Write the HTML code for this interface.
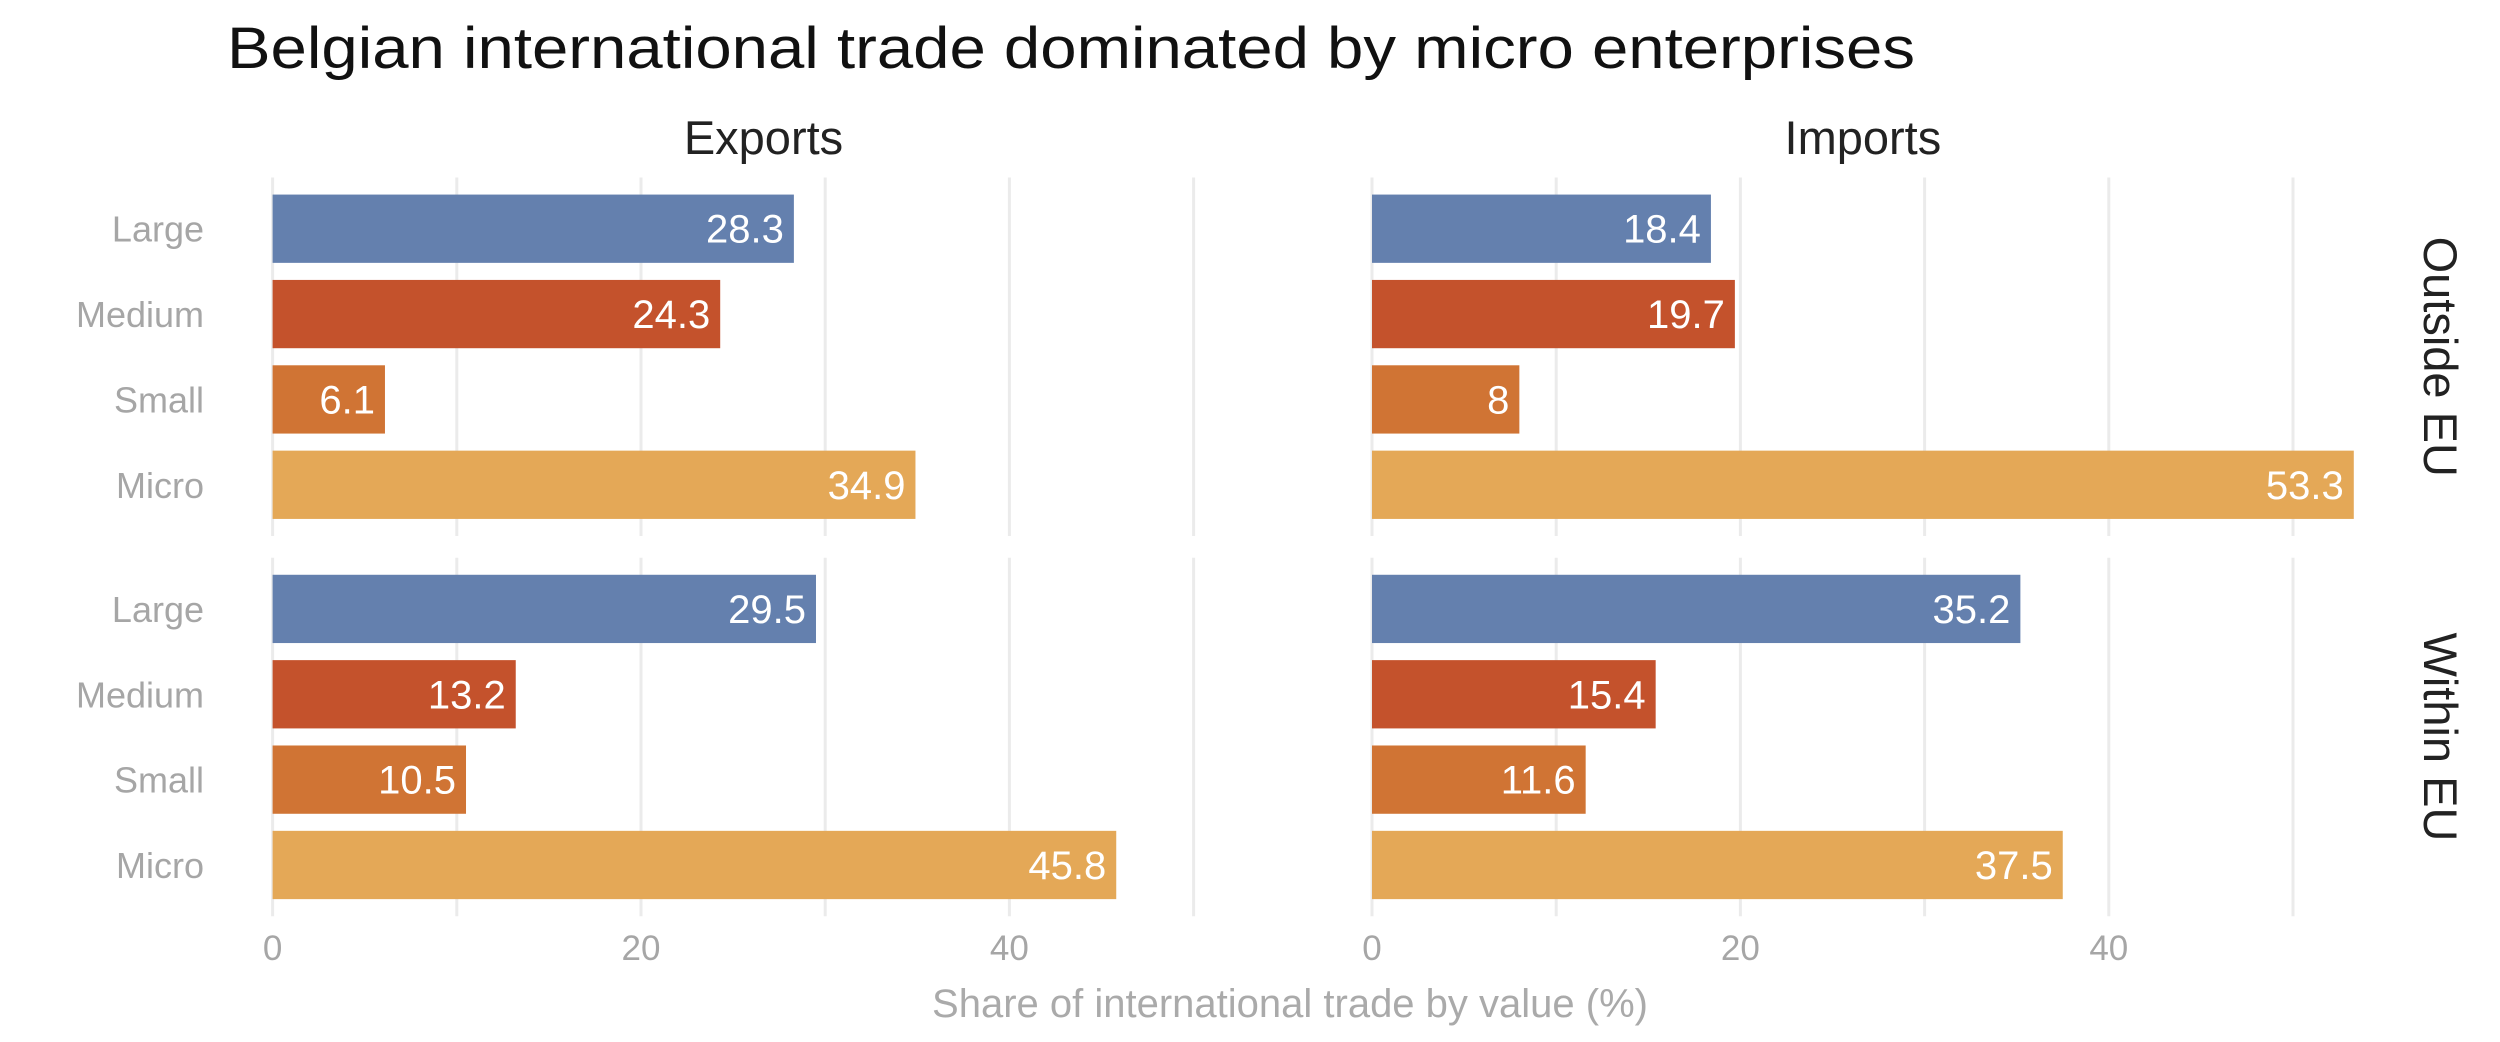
<!DOCTYPE html>
<html><head><meta charset="utf-8"><style>body{margin:0;background:#fff}svg{display:block}</style></head>
<body>
<svg id="chart" width="2500" height="1042" xmlns="http://www.w3.org/2000/svg" font-family="'Liberation Sans', sans-serif">
<text x="227" y="68" font-size="58" fill="#111" textLength="1688" lengthAdjust="spacingAndGlyphs">Belgian international trade dominated by micro enterprises</text>
<g id="plot"></g>
<text x="1290" y="1017" font-size="40" fill="#aaa" text-anchor="middle">Share of international trade by value (%)</text>
</svg>
<script>
const categories = ['Large','Medium','Small','Micro'];
const colors = ['#6480ae','#c4522c','#d07434','#e4a857'];
const flows = ['Exports','Imports'];
const regions = ['Outside EU','Within EU'];
const exportsOutside = [28.3, 24.3, 6.1, 34.9];
const importsOutside = [18.4, 19.7, 8, 53.3];
const exportsWithin = [29.5, 13.2, 10.5, 45.8];
const importsWithin = [35.2, 15.4, 11.6, 37.5];
const xTicks = [0, 20, 40];
const xMinor = [10, 30, 50];

const NS = 'http://www.w3.org/2000/svg';
const g = document.getElementById('plot');
const panelX = [272.6, 1372];
const panelY = [177.5, 557.7];
const panelH = 358.5;
const pxPerUnit = 18.42;
const xMax = 53.3;
const data = [[exportsOutside, importsOutside],[exportsWithin, importsWithin]];

function mk(tag, attrs){const e=document.createElementNS(NS,tag);for(const k in attrs)e.setAttribute(k,attrs[k]);g.appendChild(e);return e;}
function xs(p,v){return panelX[p]+v*pxPerUnit;}
function yc(r,i){const u=panelH/4.2;return panelY[r]+(0.6+i)*u;}

for(let r=0;r<2;r++){
  for(let p=0;p<2;p++){
    xTicks.concat(xMinor).forEach(t=>{
      const l=mk('line',{x1:xs(p,t),x2:xs(p,t),y1:panelY[r],y2:panelY[r]+panelH,stroke:'#ebebeb','stroke-width':3});
      
      
    });
    const vals=data[r][p];
    const u=panelH/4.2;
    categories.forEach((c,i)=>{
      const b=mk('rect',{x:xs(p,0),y:yc(r,i)-0.4*u,width:vals[i]*pxPerUnit,height:0.8*u,fill:colors[i]});
      
      
      const t=mk('text',{x:xs(p,vals[i])-10,y:yc(r,i)+14,'font-size':40,fill:'#fff','text-anchor':'end'});
      t.textContent=vals[i];
      
      
    });
  }
  categories.forEach((c,i)=>{
    const t=mk('text',{x:204,y:yc(r,i)+13,'font-size':36,fill:'#a6a6a6','text-anchor':'end'});
    t.textContent=c;
    
    
  });
  const cy=panelY[r]+panelH/2;
  const s=mk('text',{x:2440,y:cy,'font-size':47,fill:'#222','text-anchor':'middle',transform:`rotate(90 2440 ${cy}) translate(0 16)`});
  s.textContent=regions[r];
  
  
}
for(let p=0;p<2;p++){
  const s=mk('text',{x:xs(p,xMax/2),y:154,'font-size':47,fill:'#222','text-anchor':'middle'});
  s.textContent=flows[p];
  
  
  xTicks.forEach(t=>{
    const l=mk('text',{x:xs(p,t),y:960,'font-size':35,fill:'#a6a6a6','text-anchor':'middle'});
    l.textContent=t;
    
    
  });
}
</script>
</body></html>
